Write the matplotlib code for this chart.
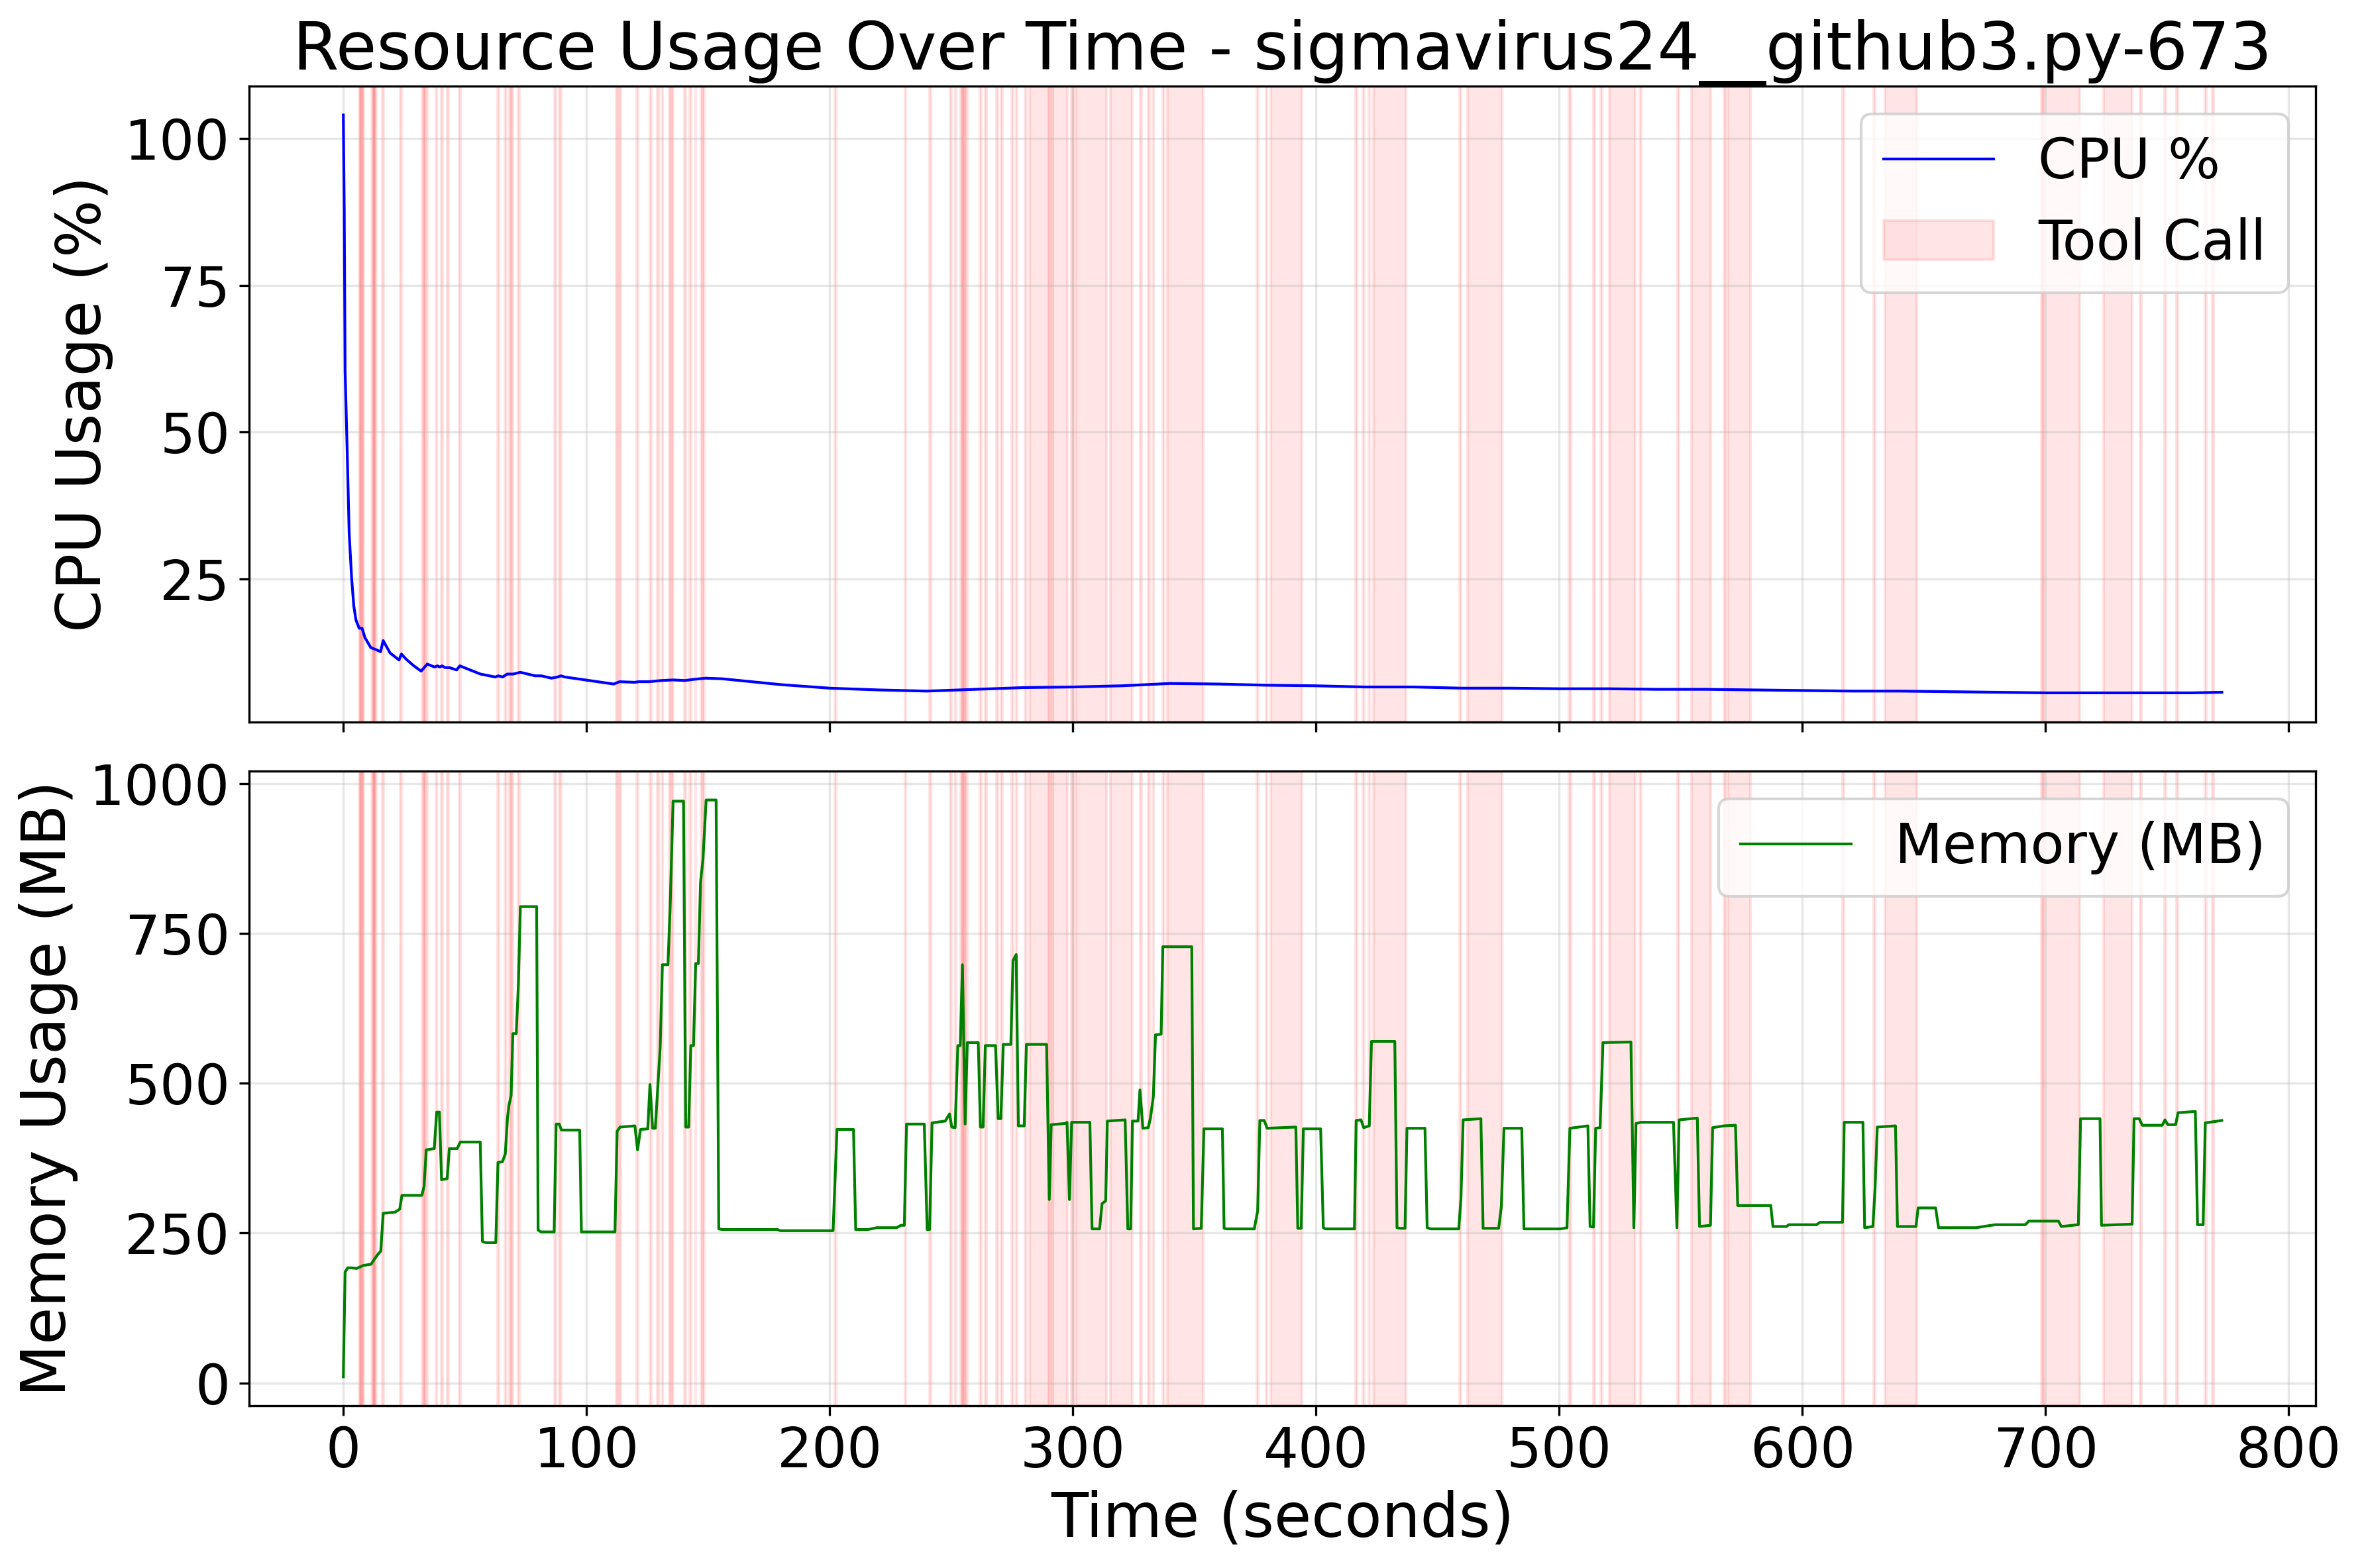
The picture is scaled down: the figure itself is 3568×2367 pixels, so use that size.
import matplotlib
matplotlib.use("Agg")
import matplotlib.pyplot as plt

# ---- data ----
cpu_time = [0.0, 0.37, 0.73, 1.6, 2.4, 3.4, 4.3, 5.2, 6.5, 7.7, 8.9, 11.3, 13.8, 15.3, 16.4,
            19.2, 22.9, 23.9, 25.9, 29.0, 32.0, 34.5, 37.5, 38.7, 39.6, 40.6, 41.8, 43.6,
            46.6, 47.9, 50.3, 56.4, 62.5, 63.7, 65.5, 67.4, 69.8, 72.8, 78.9, 81.4, 85.6,
            88.1, 89.5, 91.1, 97.8, 111.2, 113.6, 119.7, 121.5, 125.8, 130.7, 135.6, 140.4,
            144.1, 149.0, 155.7, 180.0, 200.0, 220.0, 240.0, 260.0, 280.0, 300.0, 320.0,
            340.0, 360.0, 380.0, 400.0, 420.0, 440.0, 460.0, 480.0, 500.0, 520.0, 540.0,
            560.0, 580.0, 600.0, 620.0, 640.0, 660.0, 680.0, 700.0, 720.0, 740.0, 760.0, 772.5]
cpu_pct = [104.0, 88.0, 60.4, 46.6, 32.8, 25.2, 20.4, 18.0, 16.6, 16.6, 15.0, 13.3, 12.9, 12.6,
           14.5, 12.4, 11.2, 12.2, 11.3, 10.2, 9.3, 10.5, 10.0, 10.2, 10.0, 10.2, 9.9, 9.9,
           9.5, 10.2, 9.8, 8.8, 8.3, 8.5, 8.3, 8.8, 8.8, 9.1, 8.5, 8.5, 8.1, 8.3, 8.5, 8.3,
           7.9, 7.1, 7.5, 7.4, 7.5, 7.5, 7.7, 7.8, 7.7, 7.9, 8.1, 8.0, 7.0, 6.4, 6.1, 5.9,
           6.2, 6.5, 6.6, 6.8, 7.2, 7.1, 6.9, 6.8, 6.6, 6.6, 6.4, 6.4, 6.3, 6.3, 6.2, 6.2,
           6.1, 6.0, 5.9, 5.9, 5.8, 5.7, 5.6, 5.6, 5.6, 5.6, 5.7]

mem_time = [0.0, 0.73, 1.8, 3.2, 5.5, 8.2, 11.4, 12.7, 14.1, 15.4, 16.4, 21.3, 23.2, 24.1,
            32.3, 33.2, 34.1, 37.4, 38.4, 39.5, 40.4, 42.7, 43.6, 46.8, 48.1, 56.3, 57.2,
            58.6, 62.7, 63.6, 65.4, 66.6, 67.5, 68.1, 69.0, 69.7, 71.1, 72.0, 72.8, 79.5,
            80.1, 81.3, 86.7, 87.5, 88.8, 89.7, 97.2, 97.9, 111.7, 112.6, 113.8, 119.9,
            121.0, 122.2, 125.2, 126.1, 127.2, 128.3, 130.3, 131.2, 133.5, 134.4, 135.6,
            139.9, 140.8, 142.0, 142.9, 144.0, 144.9, 146.0, 146.9, 147.9, 149.2, 153.3,
            154.4, 155.8, 178.5, 179.8, 201.4, 203.0, 209.8, 210.7, 215.7, 219.4, 227.5,
            229.3, 230.7, 231.6, 238.9, 240.1, 241.1, 242.1, 247.5, 249.3, 250.2, 251.6,
            252.7, 253.7, 254.6, 255.7, 256.6, 261.1, 262.0, 263.1, 264.0, 268.2, 269.3,
            270.4, 271.4, 274.5, 275.4, 276.7, 277.6, 280.0, 280.9, 289.2, 290.3, 291.1,
            297.0, 297.6, 298.6, 299.5, 307.0, 307.9, 311.0, 312.0, 313.5, 314.2, 321.5,
            322.6, 323.8, 324.5, 326.8, 327.6, 328.8, 331.0, 331.9, 333.1, 334.0, 336.3,
            337.0, 348.9, 349.6, 352.8, 353.9, 361.5, 362.2, 363.3, 374.6, 376.0, 376.9,
            378.7, 379.9, 391.7, 392.5, 393.9, 394.8, 401.9, 403.0, 403.9, 415.8, 416.5,
            418.5, 419.6, 421.9, 422.8, 432.4, 433.3, 434.6, 436.6, 437.4, 444.8, 445.7,
            447.3, 458.7, 459.6, 460.5, 467.8, 468.7, 475.1, 476.2, 477.3, 484.6, 485.5,
            500.5, 503.2, 504.4, 511.8, 512.7, 514.1, 515.0, 516.8, 518.0, 529.5, 530.7,
            531.6, 533.6, 547.0, 548.4, 549.3, 556.8, 557.7, 562.2, 563.1, 567.7, 572.5,
            573.4, 587.0, 587.9, 593.5, 594.4, 605.8, 607.2, 616.5, 617.2, 624.9, 625.6,
            629.0, 629.9, 630.8, 638.3, 639.1, 646.7, 647.6, 654.8, 656.0, 671.6, 674.4,
            679.4, 691.7, 693.1, 705.3, 706.5, 713.5, 714.4, 722.4, 723.0, 735.6, 736.4,
            738.5, 739.8, 748.0, 749.1, 750.3, 753.5, 754.5, 761.6, 762.5, 764.8, 765.7,
            772.5]
mem_mb = [10, 185, 192, 192, 191, 196, 198, 206, 214, 220, 283, 285, 290, 313, 313, 328, 389,
          391, 452, 452, 339, 341, 391, 391, 402, 402, 236, 234, 234, 368, 369, 382, 442, 463,
          480, 583, 583, 666, 795, 795, 255, 252, 252, 432, 432, 422, 422, 252, 252, 420, 427,
          429, 389, 423, 424, 498, 425, 425, 560, 698, 698, 795, 971, 971, 427, 427, 563, 563,
          700, 700, 836, 874, 973, 973, 257, 256, 256, 254, 254, 423, 423, 256, 256, 259, 259,
          263, 263, 432, 432, 256, 256, 434, 437, 449, 427, 426, 563, 563, 698, 432, 568, 568,
          427, 427, 563, 563, 441, 441, 565, 565, 705, 715, 429, 429, 565, 565, 306, 431, 433,
          435, 306, 435, 435, 257, 257, 299, 304, 437, 439, 257, 257, 437, 437, 489, 425, 426,
          442, 478, 581, 582, 728, 728, 257, 258, 424, 424, 258, 257, 257, 287, 438, 438, 425,
          427, 258, 258, 424, 424, 259, 257, 257, 438, 439, 426, 429, 570, 570, 259, 258, 258,
          425, 425, 259, 257, 257, 308, 439, 441, 258, 258, 294, 425, 425, 257, 257, 259, 425,
          429, 261, 260, 425, 426, 568, 569, 259, 433, 435, 435, 259, 439, 442, 261, 263, 426,
          429, 430, 296, 296, 261, 261, 264, 264, 268, 268, 435, 435, 259, 261, 325, 427, 429,
          261, 261, 292, 292, 259, 259, 261, 264, 264, 270, 270, 261, 264, 441, 441, 263, 265,
          441, 441, 430, 430, 439, 431, 431, 451, 453, 264, 264, 434, 438]

span_start = [6.5, 7.0, 7.6, 11.7, 12.2, 12.8, 15.9, 23.5, 32.4, 33.3, 38.0, 40.3, 42.8, 47.7,
              63.5, 66.3, 68.4, 69.2, 72.0, 86.9, 88.9, 112.2, 113.3, 120.6, 126.1, 129.2,
              131.1, 134.0, 135.0, 140.4, 142.5, 144.8, 147.0, 147.9,
              202.1, 230.9, 241.1, 249.5, 251.7, 253.8, 254.4, 255.6, 261.8, 264.1, 268.6,
              270.6, 274.9, 276.7, 280.4, 282.3, 290.5, 291.7, 299.5, 301.4, 315.5, 327.7,
              330.9, 333.0, 336.9, 339.0, 375.7, 379.4, 381.5,
              416.2, 419.4, 421.6, 423.6, 459.0, 462.3, 504.0, 514.2, 517.2, 520.6, 533.2,
              548.6, 554.5, 567.8, 569.5,
              616.4, 629.3, 633.9, 698.2, 699.0, 723.8, 739.0, 748.9, 753.8, 765.5, 768.6]
span_end = [7.3, 7.9, 8.3, 12.5, 13.0, 13.6, 16.5, 23.8, 33.4, 34.6, 38.5, 40.9, 43.2, 48.1,
            64.0, 66.9, 68.9, 69.7, 72.4, 87.3, 89.6, 112.8, 114.0, 121.2, 126.6, 129.7,
            131.4, 134.7, 135.7, 140.7, 142.9, 145.0, 147.6, 148.5,
            202.6, 231.4, 241.5, 250.0, 252.1, 254.6, 255.4, 256.6, 262.2, 264.5, 269.1,
            271.1, 275.3, 277.1, 280.8, 290.1, 291.4, 297.8, 300.4, 313.9, 324.4, 328.3,
            331.5, 333.3, 337.4, 353.5, 376.2, 379.8, 394.2,
            416.7, 419.8, 422.0, 437.0, 459.5, 476.4, 504.8, 514.6, 517.6, 531.2, 533.7,
            549.2, 562.4, 568.6, 578.7,
            617.1, 630.0, 647.1, 698.7, 714.0, 735.6, 739.5, 749.6, 754.5, 766.2, 769.1]

title = "Resource Usage Over Time - sigmavirus24__github3.py-673"

# ---- figure ----
W, H, DPI = 3568, 2367, 300
fig = plt.figure(figsize=(W / DPI, H / DPI), dpi=DPI)
left, width = 0.1055, 0.8741
ax1 = fig.add_axes([left, 0.5397, width, 0.4054])
ax2 = fig.add_axes([left, 0.1035, width, 0.4047], sharex=ax1)

ax1.plot(cpu_time, cpu_pct, color="blue", linewidth=1, label="CPU %")
ax2.plot(mem_time, mem_mb, color="green", linewidth=1, label="Memory (MB)")

for ax in (ax1, ax2):
    for i, (s, e) in enumerate(zip(span_start, span_end)):
        ax.axvspan(s, e, color="red", alpha=0.1,
                   label="Tool Call" if (i == 0 and ax is ax1) else None)
    ax.grid(True, alpha=0.3)
    ax.tick_params(labelsize=20)

ax1.set_ylabel("CPU Usage (%)", fontsize=22)
ax2.set_ylabel("Memory Usage (MB)", fontsize=22)
ax2.set_xlabel("Time (seconds)", fontsize=22)
ax1.set_title(title, fontsize=24)
ax1.tick_params(labelbottom=False)
ax1.legend(loc="upper right", fontsize=20)
ax2.legend(loc="upper right", fontsize=20)

fig.savefig("out.png", dpi=DPI)
